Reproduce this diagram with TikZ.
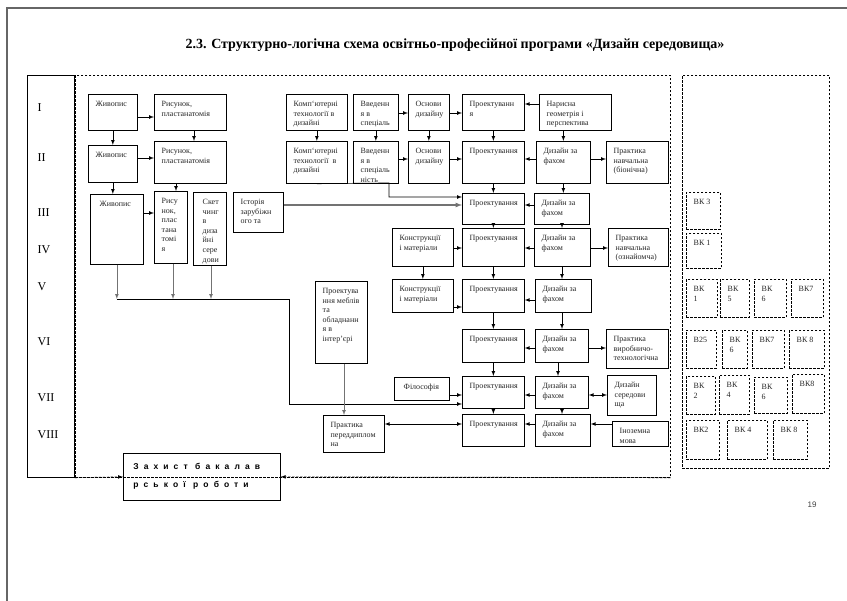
\documentclass[tikz,border=0pt]{standalone}
\usepackage{fontspec}
\setmainfont{Liberation Serif}
\newfontfamily\sansf{Liberation Sans}
\newfontfamily\spsans[LetterSpace=60]{Liberation Sans}

\tikzset{
  box/.style={draw, anchor=north west, inner sep=0pt},
  lbl/.style={draw=none, anchor=north west, inner sep=0pt, minimum width=0pt,
    minimum height=0pt, align=left, text=black!85,
    font=\fontsize{8}{9.6}\selectfont},
  txt/.style={path picture={\node[lbl] at ([shift={(7pt,-6.5pt)}]path picture bounding box.north west) {#1};}},
  dsh/.style={dash pattern=on 2.5pt off 1.5pt},
  vk/.style={box, dsh},
  sem/.style={anchor=west, font=\fontsize{12}{14}\selectfont},
  gline/.style={draw=black!55},
}

\begin{document}
\begin{tikzpicture}[x=1pt, y=-1pt, >=latex, line width=0.7pt]
    \useasboundingbox (0,0) rectangle (847,601);
    % page edge
    \draw [black!60, line width=1.5pt] (7,601) -- (7,8) -- (847,8);
    \node [font=\bfseries\fontsize{14}{16}\selectfont] (title) at (455,45)
        {2.3. Структурно-логічна схема освітньо-професійної програми «Дизайн середовища»};

    % semesters
    \node [box, minimum width=47, minimum height=402] (col) at (27,75) {};
    \foreach \s/\y in {I/108,II/158,III/213,IV/250,V/287,VI/342,VII/398,VIII/435}{
        \node [sem] (sem\s) at (34,\y) {\s};
    }
    \node [box, dsh, minimum width=595, minimum height=402] (main) at (75,75) {};
    \node [box, dsh, minimum width=147, minimum height=393] (opt) at (682,75) {};

    % left group
    \node [box, minimum width=49, minimum height=36, txt={Живопис}] (zhyv1) at (88,94) {};
    \node [box, minimum width=72, minimum height=36, txt={Рисунок,\\пластанатомія}] (ris1) at (154,94) {};
    \node [box, minimum width=49, minimum height=37, txt={Живопис}] (zhyv2) at (88,145) {};
    \node [box, minimum width=72, minimum height=42, txt={Рисунок,\\пластанатомія}] (ris2) at (154,141) {};
    \node [box, minimum width=53, minimum height=70, txt={\hspace{2pt}Живопис}] (zhyv3) at (90,194) {};
    \node [box, minimum width=33, minimum height=72, txt={Рису\\нок,\\плас\\тана\\томі\\я}] (ris3) at (154,191) {};
    \node [box, minimum width=33, minimum height=73, txt={\hspace{2pt}Скет\\\hspace{2pt}чинг\\\hspace{2pt}в\\\hspace{2pt}диза\\\hspace{2pt}йні\\\hspace{2pt}сере\\\hspace{2pt}дови}] (sket) at (193,192) {};
    \node [box, minimum width=50, minimum height=40, txt={Історія\\зарубіжн\\ого та}] (ist) at (233,192) {};
    \node [box, minimum width=52, minimum height=82, txt={Проектува\\ння меблів\\та\\обладнанн\\я в\\інтер'єрі}] (mebl) at (315,281) {};
    \node [box, minimum width=61, minimum height=37, txt={Практика\\переддиплом\\на}] (prd) at (323,415) {};

    % row I
    \node [box, minimum width=61, minimum height=36, txt={Комп`ютерні\\технології в\\дизайні}] (komp1) at (286,94) {};
    \node [box, minimum width=45, minimum height=36, txt={Введенн\\я в\\спеціаль}] (vved1) at (353,94) {};
    \node [box, minimum width=41, minimum height=36, txt={Основи\\дизайну}] (osn1) at (408,94) {};
    \node [box, minimum width=62, minimum height=36, txt={Проектуванн\\я}] (proj1) at (462,94) {};
    \node [box, minimum width=72, minimum height=36, txt={Нарисна\\геометрія і\\перспектива}] (nar) at (539,94) {};
    % row II
    \node [box, minimum width=61, minimum height=42, txt={Комп`ютерні\\технології\ \ в\\дизайні}] (komp2) at (286,141) {};
    \node [box, minimum width=45, minimum height=42, txt={Введенн\\я в\\спеціаль\\ність}] (vved2) at (353,141) {};
    \node [box, minimum width=41, minimum height=42, txt={Основи\\дизайну}] (osn2) at (408,141) {};
    \node [box, minimum width=62, minimum height=42, txt={Проектування}] (proj2) at (462,141) {};
    \node [box, minimum width=54, minimum height=42, txt={Дизайн за\\фахом}] (dz2) at (536,141) {};
    \node [box, minimum width=62, minimum height=42, txt={Практика\\навчальна\\(біонічна)}] (prb) at (606,141) {};
    % row III
    \node [box, minimum width=62, minimum height=31, txt={Проектування}] (proj3) at (462,193) {};
    \node [box, minimum width=55, minimum height=31, txt={Дизайн за\\фахом}] (dz3) at (534,193) {};
    % row IV
    \node [box, minimum width=61, minimum height=38, txt={Конструкції\\і матеріали}] (kon1) at (392,228) {};
    \node [box, minimum width=62, minimum height=38, txt={Проектування}] (proj4) at (462,228) {};
    \node [box, minimum width=56, minimum height=38, txt={Дизайн за\\фахом}] (dz4) at (534,228) {};
    \node [box, minimum width=60, minimum height=38, txt={Практика\\навчальна\\(ознайомча)}] (pro) at (608,228) {};
    % row V
    \node [box, minimum width=61, minimum height=33, txt={Конструкції\\і матеріали}] (kon2) at (392,279) {};
    \node [box, minimum width=62, minimum height=33, txt={Проектування}] (proj5) at (462,279) {};
    \node [box, minimum width=56, minimum height=33, txt={Дизайн за\\фахом}] (dz5) at (535,279) {};
    % row VI
    \node [box, minimum width=62, minimum height=33, txt={Проектування}] (proj6) at (462,329) {};
    \node [box, minimum width=53, minimum height=33, txt={Дизайн за\\фахом}] (dz6) at (535,329) {};
    \node [box, minimum width=62, minimum height=39, txt={Практика\\виробничо-\\технологічна}] (pvt) at (606,329) {};
    % row VII
    \node [box, minimum width=55, minimum height=23, txt={\hspace{2pt}Філософія}] (fil) at (394,377) {};
    \node [box, minimum width=62, minimum height=32, txt={Проектування}] (proj7) at (462,376) {};
    \node [box, minimum width=53, minimum height=32, txt={Дизайн за\\фахом}] (dz7) at (535,376) {};
    \node [box, minimum width=49, minimum height=40, txt={Дизайн\\середови\\ща}] (ds) at (607,375) {};
    % row VIII
    \node [box, minimum width=62, minimum height=32, txt={Проектування}] (proj8) at (462,414) {};
    \node [box, minimum width=55, minimum height=32, txt={Дизайн за\\фахом}] (dz8) at (535,414) {};
    \node [box, minimum width=56, minimum height=25, txt={Іноземна\\мова}] (inoz) at (612,421) {};

    % final work
    \node [box, minimum width=157, minimum height=47] (zakh) at (123,453) {};
    \node [lbl, font=\spsans\bfseries\fontsize{8.5}{18}\selectfont, text=black] (zakhtxt)
        at ([shift={(10pt,-10pt)}]zakh.north west) {Захист бакалав\\рської роботи};
    \draw [->, dsh] (col.south east) -- (zakh.west);
    \draw [->, dsh] (main.south east) -- (zakh.east);

    % optional blocks
    \foreach \n/\x/\y/\w/\h/\lab in {1/686/192/34/37/{ВК 3}, 2/686/233/35/35/{ВК 1},
        3/686/279/31/38/{ВК\\1}, 4/720/279/29/38/{ВК\\5}, 5/754/279/32/38/{ВК\\6}, 6/791/279/32/38/{ВК7},
        7/686/330/30/38/{В25}, 8/722/330/25/38/{ВК\\6}, 9/752/330/32/38/{ВК7}, 10/789/330/35/38/{ВК 8},
        11/686/376/29/38/{ВК\\2}, 12/719/375/30/39/{ВК\\4}, 13/754/377/33/36/{ВК\\6}, 14/792/374/32/39/{ВК8},
        15/686/420/33/39/{ВК2}, 16/727/420/40/39/{ВК 4}, 17/773/420/34/39/{ВК 8}}{
        \node [vk, minimum width=\w, minimum height=\h, txt=\lab] (vk\n) at (\x,\y) {};
    }

    % connectors, left group
    \draw [->] (zhyv1.east |- 0,117) -- (ris1.west |- 0,117);
    \draw [->] (zhyv1.south) -- (zhyv2.north);
    \draw [->] (ris1.south -| 194,0) -- (ris2.north -| 194,0);
    \draw [->] (zhyv2.east |- 0,158) -- (ris2.west |- 0,158);
    \draw [->] (zhyv2.south) -- (zhyv2.south |- zhyv3.north);
    \draw [->] (ris2.south -| 176,0) -- (ris3.north -| 176,0);
    \draw [->] (zhyv3.east |- 0,213) -- (ris3.west |- 0,213);
    \coordinate (bus) at (289,299);
    \draw [->, gline] (zhyv3.south) -- (zhyv3.south |- bus);
    \draw [->, gline] (ris3.south -| 173,0) -- (173,299);
    \draw [->, gline] (sket.south -| 211,0) -- (211,299);
    \draw [->] (zhyv3.south |- bus) -- (bus) |- (proj7.west |- 0,404);
    \draw [->, gline, line width=1.2pt] (ist.east |- 0,205) -- (proj3.west |- 0,205);
    \draw [->] (komp2.south) -- (389,183) |- (proj3.west |- 0,197);
    \draw [->, gline] (mebl.south -| 344,0) -- (prd.north -| 344,0);

    % row I
    \draw [->] (vved1.east |- 0,113) -- (osn1.west |- 0,113);
    \draw [->] (osn1.east |- 0,113) -- (proj1.west |- 0,113);
    \draw [->] (nar.west |- 0,104) -- (proj1.east |- 0,104);
    \draw [->] (komp1.south) -- (komp2.north);
    \draw [->] (vved1.south) -- (vved2.north);
    \draw [->] (osn1.south) -- (osn2.north);
    \draw [->] (proj1.south) -- (proj2.north);
    \draw [->] (dz2.north |- nar.south) -- (dz2.north);
    % row II
    \draw [->] (vved2.east |- 0,159) -- (osn2.west |- 0,159);
    \draw [->] (osn2.east |- 0,159) -- (proj2.west |- 0,159);
    \draw [->] (dz2.west |- 0,159) -- (proj2.east |- 0,159);
    \draw [->] (dz2.east |- 0,159) -- (prb.west |- 0,159);
    \draw [->] (proj2.south) -- (proj3.north);
    \draw [->] (dz2.south) -- (dz2.south |- dz3.north);
    % row III
    \draw [->] (dz3.west |- 0,205) -- (proj3.east |- 0,205);
    \draw [->] (proj3.south) -- (proj4.north);
    \draw [->] (dz3.south -| 562,0) -- (dz4.north -| 562,0);
    % row IV
    \draw [->] (kon1.east |- 0,248) -- (proj4.west |- 0,248);
    \draw [->] (dz4.west |- 0,248) -- (proj4.east |- 0,248);
    \draw [->] (dz4.east |- 0,248) -- (pro.west |- 0,248);
    \draw [->] (kon1.south) -- (kon2.north);
    \draw [->] (proj4.south) -- (proj5.north);
    \draw [->] (dz4.south -| 562,0) -- (dz5.north -| 562,0);
    % row V
    \draw [->] (kon2.east |- 0,307) -- (proj5.west |- 0,307);
    \draw [->] (dz5.west |- 0,300) -- (proj5.east |- 0,300);
    \draw [->] (proj5.south) -- (proj6.north);
    \draw [->] (dz5.south -| 562,0) -- (dz6.north -| 562,0);
    % row VI
    \draw [->] (dz6.west |- 0,348) -- (proj6.east |- 0,348);
    \draw [->] (dz6.east |- 0,348) -- (pvt.west |- 0,348);
    \draw [->] (proj6.south) -- (proj7.north);
    \draw [->] (dz6.south -| 558,0) -- (dz7.north -| 558,0);
    % row VII
    \draw [->] (fil.east |- 0,395) -- (proj7.west |- 0,395);
    \draw [->] (dz7.west |- 0,395) -- (proj7.east |- 0,395);
    \draw [<->] (dz7.east |- 0,395) -- (ds.west |- 0,395);
    \draw [->] (proj7.south) -- (proj8.north);
    \draw [->] (dz7.south -| 562,0) -- (dz8.north -| 562,0);
    % row VIII
    \draw [<->] (prd.east |- 0,424) -- (proj8.west |- 0,424);
    \draw [->] (dz8.west |- 0,424) -- (proj8.east |- 0,424);
    \draw [->] (inoz.west |- 0,424) -- (dz8.east |- 0,424);

    \node [font=\sansf\fontsize{8}{10}\selectfont, text=black!75] (pg) at (812,505) {19};
\end{tikzpicture}
\end{document}
